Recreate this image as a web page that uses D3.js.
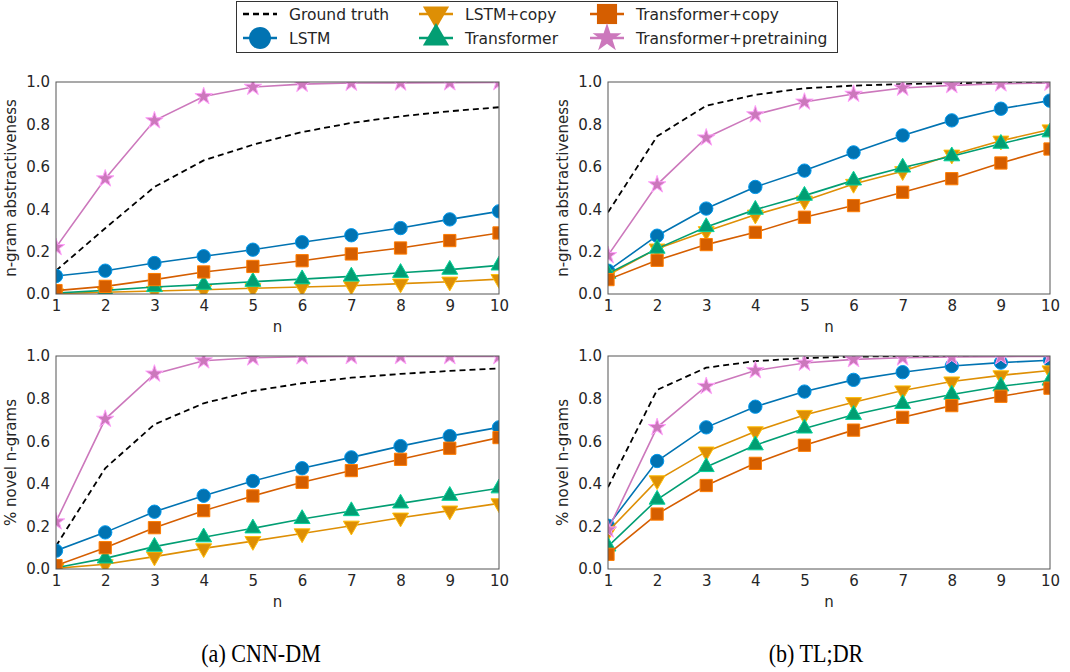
<!DOCTYPE html>
<html>
<head>
<meta charset="utf-8">
<script src="https://cdn.jsdelivr.net/npm/d3@7"></script>
<style>
  body { margin: 0; background: #fff; }
</style>
</head>
<body>
<svg id="chart" width="1070" height="672"></svg>
<script>
// Data
const ns = [1, 2, 3, 4, 5, 6, 7, 8, 9, 10];
const seriesNames = ["Ground truth", "LSTM", "LSTM+copy", "Transformer", "Transformer+copy", "Transformer+pretraining"];
const yTicks = [0.0, 0.2, 0.4, 0.6, 0.8, 1.0];

// CNN-DM, n-gram abstractiveness
const cnnAbsGround = [0.11, 0.31, 0.505, 0.63, 0.704, 0.764, 0.807, 0.838, 0.862, 0.881];
const cnnAbsLstm = [0.085, 0.11, 0.146, 0.178, 0.209, 0.244, 0.277, 0.311, 0.352, 0.39];
const cnnAbsLstmCopy = [0.002, 0.008, 0.014, 0.02, 0.027, 0.033, 0.039, 0.049, 0.058, 0.07];
const cnnAbsTrans = [0.005, 0.017, 0.033, 0.044, 0.058, 0.07, 0.083, 0.1, 0.115, 0.135];
const cnnAbsTransCopy = [0.016, 0.036, 0.068, 0.104, 0.13, 0.157, 0.189, 0.217, 0.252, 0.288];
const cnnAbsPretrain = [0.22, 0.544, 0.818, 0.932, 0.976, 0.99, 0.995, 0.996, 0.997, 0.998];

// TL;DR, n-gram abstractiveness
const tldrAbsGround = [0.385, 0.744, 0.888, 0.94, 0.97, 0.983, 0.99, 0.995, 0.996, 0.998];
const tldrAbsLstm = [0.11, 0.275, 0.403, 0.505, 0.582, 0.668, 0.748, 0.819, 0.874, 0.912];
const tldrAbsLstmCopy = [0.09, 0.214, 0.296, 0.374, 0.44, 0.519, 0.579, 0.657, 0.723, 0.776];
const tldrAbsTrans = [0.096, 0.214, 0.316, 0.398, 0.464, 0.536, 0.597, 0.65, 0.709, 0.763];
const tldrAbsTransCopy = [0.068, 0.159, 0.233, 0.291, 0.362, 0.417, 0.48, 0.544, 0.618, 0.684];
const tldrAbsPretrain = [0.182, 0.516, 0.737, 0.846, 0.906, 0.943, 0.972, 0.984, 0.992, 0.995];

// CNN-DM, % novel n-grams
const cnnNovGround = [0.108, 0.473, 0.679, 0.778, 0.836, 0.872, 0.898, 0.916, 0.93, 0.942];
const cnnNovLstm = [0.086, 0.172, 0.269, 0.344, 0.413, 0.473, 0.524, 0.577, 0.624, 0.665];
const cnnNovLstmCopy = [0.003, 0.022, 0.058, 0.097, 0.131, 0.167, 0.203, 0.241, 0.274, 0.308];
const cnnNovTrans = [0.006, 0.05, 0.105, 0.149, 0.191, 0.235, 0.272, 0.308, 0.344, 0.379];
const cnnNovTransCopy = [0.016, 0.1, 0.194, 0.274, 0.343, 0.407, 0.462, 0.515, 0.567, 0.617];
const cnnNovPretrain = [0.222, 0.704, 0.916, 0.978, 0.992, 0.997, 0.998, 0.998, 0.998, 0.998];

// TL;DR, % novel n-grams
const tldrNovGround = [0.384, 0.841, 0.945, 0.976, 0.99, 0.997, 0.999, 1.0, 1.0, 1.0];
const tldrNovLstm = [0.203, 0.507, 0.665, 0.762, 0.833, 0.888, 0.924, 0.953, 0.969, 0.98];
const tldrNovLstmCopy = [0.176, 0.416, 0.551, 0.646, 0.723, 0.783, 0.838, 0.88, 0.909, 0.932];
const tldrNovTrans = [0.106, 0.326, 0.479, 0.581, 0.66, 0.724, 0.775, 0.819, 0.858, 0.885];
const tldrNovTransCopy = [0.069, 0.258, 0.392, 0.496, 0.581, 0.652, 0.712, 0.767, 0.811, 0.849];
const tldrNovPretrain = [0.184, 0.665, 0.858, 0.932, 0.967, 0.984, 0.992, 0.995, 0.997, 0.998];

const captions = ["(a) CNN-DM", "(b) TL;DR"];

// Styles
const styles = {
    "Ground truth": { color: "#000000", dash: "6,4", marker: null },
    "LSTM": { color: "#0173B2", marker: d3.symbolCircle, size: 140 },
    "LSTM+copy": { color: "#DE8F05", marker: d3.symbolTriangle, size: 110, rotate: 180 },
    "Transformer": { color: "#029E73", marker: d3.symbolTriangle, size: 110 },
    "Transformer+copy": { color: "#D55E00", marker: d3.symbolSquare, size: 150 },
    "Transformer+pretraining": { color: "#CC78BC", marker: d3.symbolStar, size: 95 }
};

const panels = [
    { id: "a1", x0: 56, x1: 499, y0: 82, y1: 294, ylabel: "n-gram abstractiveness",
      data: [cnnAbsGround, cnnAbsLstm, cnnAbsLstmCopy, cnnAbsTrans, cnnAbsTransCopy, cnnAbsPretrain] },
    { id: "b1", x0: 608, x1: 1050, y0: 82, y1: 294, ylabel: "n-gram abstractiveness",
      data: [tldrAbsGround, tldrAbsLstm, tldrAbsLstmCopy, tldrAbsTrans, tldrAbsTransCopy, tldrAbsPretrain] },
    { id: "a2", x0: 56, x1: 499, y0: 356, y1: 569, ylabel: "% novel n-grams",
      data: [cnnNovGround, cnnNovLstm, cnnNovLstmCopy, cnnNovTrans, cnnNovTransCopy, cnnNovPretrain] },
    { id: "b2", x0: 608, x1: 1050, y0: 356, y1: 569, ylabel: "% novel n-grams",
      data: [tldrNovGround, tldrNovLstm, tldrNovLstmCopy, tldrNovTrans, tldrNovTransCopy, tldrNovPretrain] }
];

const svg = d3.select("#chart");
const textColor = "#262626";
const sans = "DejaVu Sans, sans-serif";

function symbolPath(st, scale) {
    return d3.symbol().type(st.marker).size(st.size * (scale || 1))();
}

panels.forEach(p => {
    const x = d3.scaleLinear().domain([1, 10]).range([p.x0, p.x1]);
    const y = d3.scaleLinear().domain([0, 1]).range([p.y1, p.y0]);
    const g = svg.append("g");

    g.append("clipPath").attr("id", "clip-" + p.id)
        .append("rect")
        .attr("x", p.x0).attr("y", p.y0)
        .attr("width", p.x1 - p.x0).attr("height", p.y1 - p.y0);

    // axes (tick labels only, no tick marks)
    const xAxis = g.append("g")
        .attr("transform", `translate(0,${p.y1})`)
        .call(d3.axisBottom(x).tickValues(ns).tickFormat(d3.format("d")).tickSize(0).tickPadding(6));
    const yAxis = g.append("g")
        .attr("transform", `translate(${p.x0},0)`)
        .call(d3.axisLeft(y).tickValues(yTicks).tickFormat(d3.format(".1f")).tickSize(0).tickPadding(6));
    [xAxis, yAxis].forEach(a => {
        a.select(".domain").remove();
        a.selectAll("text").attr("font-size", 15).attr("fill", textColor)
            .style("font-family", sans);
    });

    g.append("text")
        .attr("x", (p.x0 + p.x1) / 2).attr("y", p.y1 + 38)
        .attr("text-anchor", "middle").attr("font-size", 15).attr("fill", textColor)
        .style("font-family", sans)
        .text("n");
    g.append("text")
        .attr("transform", `translate(${p.x0 - 40},${(p.y0 + p.y1) / 2}) rotate(-90)`)
        .attr("text-anchor", "middle").attr("font-size", 15).attr("fill", textColor)
        .style("font-family", sans)
        .text(p.ylabel);

    const plot = g.append("g").attr("clip-path", `url(#clip-${p.id})`);
    const line = d3.line().x((d, i) => x(ns[i])).y(d => y(d));

    seriesNames.forEach((name, si) => {
        const st = styles[name];
        const vals = p.data[si];
        plot.append("path")
            .datum(vals)
            .attr("d", line)
            .attr("fill", "none")
            .attr("stroke", st.color)
            .attr("stroke-width", st.dash ? 1.8 : 1.6)
            .attr("stroke-dasharray", st.dash || null);
        if (st.marker) {
            plot.selectAll(null)
                .data(vals)
                .enter()
                .append("path")
                .attr("d", symbolPath(st))
                .attr("transform", (d, i) => `translate(${x(ns[i])},${y(d)})` + (st.rotate ? ` rotate(${st.rotate})` : ""))
                .attr("fill", st.color)
                .attr("stroke", d3.color(st.color).brighter(0.8))
                .attr("stroke-width", 1);
        }
    });

    // frame
    g.append("rect")
        .attr("x", p.x0).attr("y", p.y0)
        .attr("width", p.x1 - p.x0).attr("height", p.y1 - p.y0)
        .attr("fill", "none").attr("stroke", "#555").attr("stroke-width", 1);
});

// Legend
const legend = svg.append("g");
legend.append("rect")
    .attr("x", 236.5).attr("y", 1.5).attr("width", 601).attr("height", 51)
    .attr("fill", "#fff").attr("stroke", "#333").attr("stroke-width", 1);
const legendCols = [243, 419, 590];
const legendRows = [14, 38];
seriesNames.forEach((name, i) => {
    const st = styles[name];
    const cx = legendCols[Math.floor(i / 2)];
    const cy = legendRows[i % 2];
    legend.append("line")
        .attr("x1", cx).attr("x2", cx + 34).attr("y1", cy).attr("y2", cy)
        .attr("stroke", st.color).attr("stroke-width", 2.4)
        .attr("stroke-dasharray", st.dash || null);
    if (st.marker) {
        legend.append("path")
            .attr("d", symbolPath(st, 2.7))
            .attr("transform", `translate(${cx + 17},${cy})` + (st.rotate ? ` rotate(${st.rotate})` : ""))
            .attr("fill", st.color);
    }
    legend.append("text")
        .attr("x", cx + 46).attr("y", cy + 6)
        .attr("font-size", 15.5).attr("fill", textColor)
        .style("font-family", sans)
        .text(name);
});

// Captions
[261, 816].forEach((cx, i) => {
    svg.append("text")
        .attr("transform", `translate(${cx},662) scale(0.92,1.08)`)
        .attr("text-anchor", "middle")
        .style("font-family", "Liberation Serif, Times New Roman, serif")
        .attr("font-size", 24).attr("fill", "#000")
        .text(captions[i]);
});
</script>
</body>
</html>
